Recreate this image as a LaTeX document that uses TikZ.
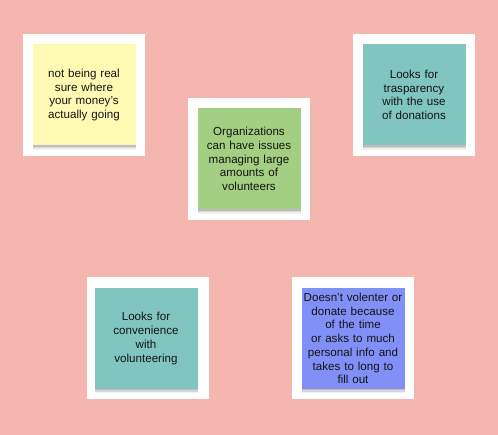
\documentclass[tikz,border=0pt]{standalone}
\usepackage{fontspec}
\setmainfont{Liberation Sans}
\usepackage{tikz}
\usetikzlibrary{positioning,shadows}
\usepackage{xcolor}
\definecolor{boardbg}{HTML}{F5B6B0}
\definecolor{stickyyellow}{HTML}{FFF9B3}
\definecolor{stickygreen}{HTML}{A3CF82}
\definecolor{stickyteal}{HTML}{80C5C0}
\definecolor{stickyblue}{HTML}{8190F7}
\definecolor{darktext}{HTML}{141414}

\begin{document}
\begin{tikzpicture}[x=1pt, y=-1pt,
  frame/.style={rectangle, fill=white, minimum width=122pt, minimum height=122pt, inner sep=0pt},
  sticky/.style={rectangle, minimum width=103pt, minimum height=101pt, inner sep=0pt,
                 text width=103pt, align=center, text=darktext,
                 font=\fontsize{11.6}{13.7}\selectfont,
                 drop shadow={shadow xshift=0pt, shadow yshift=-1.5pt, opacity=0.12, fill=black},
                 drop shadow={shadow xshift=0.5pt, shadow yshift=-3pt, opacity=0.10, fill=black},
                 drop shadow={shadow xshift=0.5pt, shadow yshift=-4.5pt, opacity=0.06, fill=black}},
]
  \fill[boardbg] (0,0) rectangle (498,435);
  \useasboundingbox (0,0) rectangle (498,435);

  % white frames
  \node[frame] (fmoney) at (84,95) {};
  \node[frame] (forgs) at (249,159) {};
  \node[frame] (ftrans) at (414,95) {};
  \node[frame] (fconv) at (148,338.5) {};
  \node[frame] (ftime) at (353,338.5) {};

  % sticky notes
  \node[sticky, fill=stickyyellow] (money) at (fmoney) {not being real\\sure where\\your money’s\\actually going};
  \node[sticky, fill=stickygreen] (orgs) at (forgs) {Organizations\\can have issues\\managing large\\amounts of\\volunteers};
  \node[sticky, fill=stickyteal] (trans) at (ftrans) {Looks for\\trasparency\\with the use\\of donations};
  \node[sticky, fill=stickyteal, xshift=-2pt] (conv) at (fconv) {Looks for\\convenience\\with\\volunteering};
  \node[sticky, fill=stickyblue] (time) at (ftime) {Doesn’t volenter or\\donate because\\of the time\\or asks to much\\personal info and\\takes to long to\\fill out};
\end{tikzpicture}
\end{document}
